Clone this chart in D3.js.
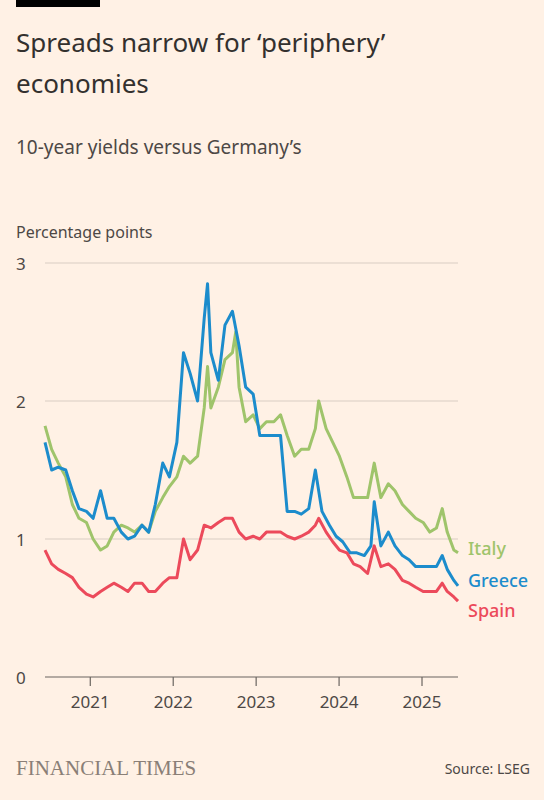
<!DOCTYPE html>
<html>
<head>
<meta charset="utf-8">
<script src="https://cdn.jsdelivr.net/npm/d3@7"></script>
<style>
  body { margin: 0; background: #fff1e5; }
  text { font-family: "Noto Sans", sans-serif; }
</style>
</head>
<body>
<svg id="main-svg"></svg>
<script>
const svg = d3.select("#main-svg");

// FIXED
CANVAS_WIDTH = 544
CANVAS_HEIGHT = 800

// DATA (decimal years, percentage points)
const greece = [
  [2020.46,1.70],[2020.54,1.50],[2020.62,1.52],[2020.71,1.50],[2020.79,1.35],[2020.87,1.22],[2020.96,1.20],
  [2021.04,1.15],[2021.13,1.35],[2021.21,1.15],[2021.29,1.15],[2021.38,1.05],[2021.46,1.00],[2021.54,1.02],
  [2021.63,1.10],[2021.71,1.05],[2021.79,1.25],[2021.88,1.55],[2021.96,1.45],[2022.05,1.70],[2022.13,2.35],
  [2022.21,2.20],[2022.30,2.00],[2022.38,2.60],[2022.42,2.85],[2022.46,2.35],[2022.55,2.15],[2022.63,2.55],
  [2022.72,2.65],[2022.80,2.40],[2022.88,2.10],[2022.97,2.05],[2023.05,1.75],[2023.13,1.75],[2023.22,1.75],
  [2023.30,1.75],[2023.38,1.20],[2023.47,1.20],[2023.55,1.18],[2023.64,1.22],[2023.72,1.50],[2023.80,1.20],
  [2023.89,1.10],[2023.97,1.02],[2024.05,0.98],[2024.14,0.90],[2024.22,0.90],[2024.31,0.88],[2024.39,0.95],
  [2024.43,1.27],[2024.51,0.95],[2024.60,1.05],[2024.68,0.95],[2024.77,0.88],[2024.85,0.85],[2024.93,0.80],
  [2025.02,0.80],[2025.10,0.80],[2025.18,0.80],[2025.25,0.88],[2025.31,0.78],[2025.39,0.70],[2025.44,0.66]
];
const italy = [
  [2020.46,1.82],[2020.54,1.65],[2020.62,1.55],[2020.71,1.45],[2020.79,1.25],[2020.87,1.15],[2020.96,1.12],
  [2021.04,1.00],[2021.13,0.92],[2021.21,0.95],[2021.29,1.05],[2021.38,1.10],[2021.46,1.08],[2021.54,1.05],
  [2021.63,1.10],[2021.71,1.05],[2021.79,1.20],[2021.88,1.30],[2021.96,1.38],[2022.05,1.45],[2022.13,1.60],
  [2022.21,1.55],[2022.30,1.60],[2022.38,1.95],[2022.42,2.25],[2022.46,1.95],[2022.55,2.10],[2022.63,2.30],
  [2022.72,2.35],[2022.76,2.50],[2022.80,2.10],[2022.88,1.85],[2022.97,1.90],[2023.05,1.80],[2023.13,1.85],
  [2023.22,1.85],[2023.30,1.90],[2023.38,1.75],[2023.47,1.60],[2023.55,1.65],[2023.64,1.65],[2023.72,1.80],
  [2023.76,2.00],[2023.85,1.80],[2023.93,1.70],[2024.01,1.60],[2024.10,1.45],[2024.18,1.30],[2024.26,1.30],
  [2024.35,1.30],[2024.43,1.55],[2024.51,1.30],[2024.60,1.40],[2024.68,1.35],[2024.77,1.25],[2024.85,1.20],
  [2024.93,1.15],[2025.02,1.12],[2025.10,1.05],[2025.18,1.08],[2025.25,1.22],[2025.31,1.05],[2025.39,0.92],
  [2025.44,0.90]
];
const spain = [
  [2020.46,0.92],[2020.54,0.82],[2020.62,0.78],[2020.71,0.75],[2020.79,0.72],[2020.87,0.65],[2020.96,0.60],
  [2021.04,0.58],[2021.13,0.62],[2021.21,0.65],[2021.29,0.68],[2021.38,0.65],[2021.46,0.62],[2021.54,0.68],
  [2021.63,0.68],[2021.71,0.62],[2021.79,0.62],[2021.88,0.68],[2021.96,0.72],[2022.05,0.72],[2022.13,1.00],
  [2022.21,0.85],[2022.30,0.92],[2022.38,1.10],[2022.46,1.08],[2022.55,1.12],[2022.63,1.15],[2022.72,1.15],
  [2022.80,1.05],[2022.88,1.00],[2022.97,1.02],[2023.05,1.00],[2023.13,1.05],[2023.22,1.05],[2023.30,1.05],
  [2023.38,1.02],[2023.47,1.00],[2023.55,1.02],[2023.64,1.05],[2023.72,1.10],[2023.76,1.15],[2023.85,1.05],
  [2023.93,0.98],[2024.01,0.92],[2024.10,0.90],[2024.18,0.82],[2024.26,0.80],[2024.35,0.75],[2024.43,0.95],
  [2024.51,0.80],[2024.60,0.82],[2024.68,0.78],[2024.77,0.70],[2024.85,0.68],[2024.93,0.65],[2025.02,0.62],
  [2025.10,0.62],[2025.18,0.62],[2025.25,0.68],[2025.31,0.62],[2025.39,0.58],[2025.44,0.55]
];
const yTicks = [0, 1, 2, 3];
const xTicks = [2021, 2022, 2023, 2024, 2025];
const seriesNames = ["Italy", "Greece", "Spain"];
const seriesColors = ["#9fc46b", "#1c8ccc", "#ec4a5b"];

svg.attr("width", CANVAS_WIDTH).attr("height", CANVAS_HEIGHT);
svg.append("rect").attr("width", "100%").attr("height", "100%").attr("fill", "#fff1e5");

// header
svg.append("rect").attr("x", 16).attr("y", 0).attr("width", 84).attr("height", 7).attr("fill", "#000");
svg.append("text").attr("x", 16).attr("y", 52).attr("font-size", 26).attr("fill", "#33302e").text("Spreads narrow for ‘periphery’");
svg.append("text").attr("x", 16).attr("y", 93).attr("font-size", 26).attr("fill", "#33302e").text("economies");
svg.append("text").attr("x", 16).attr("y", 154).attr("font-size", 19).attr("fill", "#4d4845").text("10-year yields versus Germany’s");
svg.append("text").attr("x", 16).attr("y", 238).attr("font-size", 16).attr("fill", "#4d4845").text("Percentage points");

const x = d3.scaleLinear().domain([2020.46, 2025.44]).range([45, 458]);
const y = d3.scaleLinear().domain([0, 3]).range([677, 263]);

// grid
svg.selectAll(".grid").data(yTicks).enter().append("line")
  .attr("x1", 45).attr("x2", 458)
  .attr("y1", d => y(d)).attr("y2", d => y(d))
  .attr("stroke", d => d === 0 ? "#6b6560" : "#d9cdc3").attr("stroke-width", 1.2);
svg.selectAll(".ylab").data(yTicks).enter().append("text")
  .attr("x", 16).attr("y", d => y(d) + 7)
  .attr("font-size", 17).attr("fill", "#4d4845").text(d => d);

// x axis
const xAxis = svg.append("g").attr("transform", `translate(0 ${y(0)})`)
  .call(d3.axisBottom(x).tickValues(xTicks).tickFormat(d3.format("d")).tickSize(9).tickSizeOuter(0));
xAxis.select(".domain").remove();
xAxis.selectAll("line").attr("stroke", "#6b6560").attr("stroke-width", 1.2);
xAxis.selectAll("text").attr("font-size", 17).attr("fill", "#4d4845").attr("dy", "1.1em")
  .style("font-family", "Noto Sans, sans-serif");

// lines
const line = d3.line().x(d => x(d[0])).y(d => y(d[1]));
[italy, greece, spain].forEach((s, i) => {
  svg.append("path").datum(s).attr("d", line).attr("fill", "none")
    .attr("stroke", seriesColors[i]).attr("stroke-width", 3).attr("stroke-linejoin", "round");
});

// labels
const labelY = [555, 587, 617];
seriesNames.forEach((n, i) => {
  svg.append("text").attr("x", 468).attr("y", labelY[i]).attr("font-size", 18)
    .attr("font-weight", 500).attr("fill", seriesColors[i]).text(n);
});

// footer
svg.append("text").attr("x", 16).attr("y", 775).attr("font-size", 21)
  .style("font-family", "Liberation Serif, serif").attr("fill", "#8a7f77").text("FINANCIAL TIMES");
svg.append("text").attr("x", 530).attr("y", 774).attr("text-anchor", "end").attr("font-size", 14)
  .attr("fill", "#4d4845").text("Source: LSEG");
</script>
</body>
</html>
